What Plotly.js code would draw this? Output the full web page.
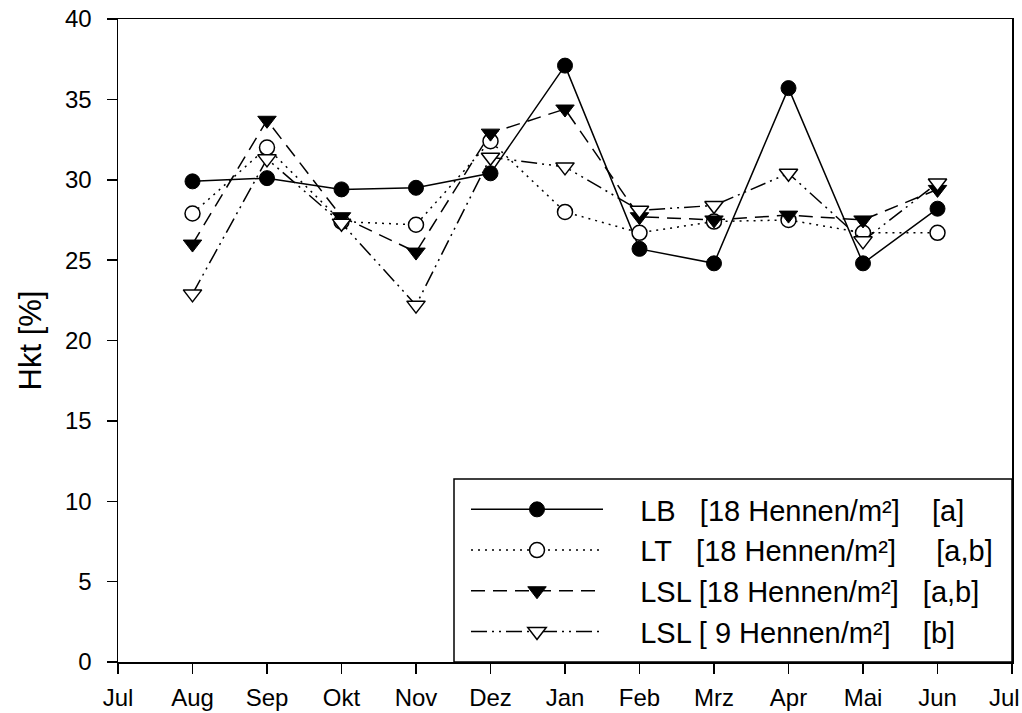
<!DOCTYPE html>
<html>
<head>
<meta charset="utf-8">
<script src="https://cdn.plot.ly/plotly-3.0.1.min.js"></script>
<style>html,body{margin:0;padding:0;background:#fff;}#chart{width:1022px;height:713px;}</style>
</head>
<body>
<div id="chart"></div>
<script>
const tickLabels = ['Jul','Aug','Sep','Okt','Nov','Dez','Jan','Feb','Mrz','Apr','Mai','Jun','Jul'];
const monthPos = [1,2,3,4,5,6,7,8,9,10,11];
const lb    = [29.9, 30.1, 29.4, 29.5, 30.4, 37.1, 25.7, 24.8, 35.7, 24.8, 28.2];
const lt    = [27.9, 32.0, 27.4, 27.2, 32.4, 28.0, 26.7, 27.4, 27.5, 26.7, 26.7];
const lsl18 = [26.0, 33.7, 27.7, 25.5, 32.9, 34.4, 27.7, 27.5, 27.8, 27.5, 29.4];
const lsl9  = [22.9, 31.3, 27.3, 22.2, 31.4, 30.8, 28.1, 28.4, 30.4, 26.2, 29.8];
const NB = '\u00a0';
const names = [
  NB.repeat(4) + 'LB' + NB.repeat(3) + '[18 Hennen/m²]' + NB.repeat(4) + '[a]',
  NB.repeat(4) + 'LT' + NB.repeat(3) + '[18 Hennen/m²]' + NB.repeat(5) + '[a,b]',
  NB.repeat(4) + 'LSL [18 Hennen/m²]' + NB.repeat(3) + '[a,b]',
  NB.repeat(4) + 'LSL [ 9 Hennen/m²]' + NB.repeat(4) + '[b]'
];

const traces = [
  {x: monthPos, y: lb, name: names[0], mode: 'lines+markers',
   line: {color: '#000', width: 1.5, dash: 'solid'},
   marker: {symbol: 'circle', size: 15, color: '#000', line: {color: '#000', width: 1}}},
  {x: monthPos, y: lt, name: names[1], mode: 'lines+markers',
   line: {color: '#000', width: 1.5, dash: '2px,5px'},
   marker: {symbol: 'circle', size: 15, color: '#fff', line: {color: '#000', width: 1.5}}},
  {x: monthPos, y: lsl18, name: names[2], mode: 'lines+markers',
   line: {color: '#000', width: 1.5, dash: '14px,8px'},
   marker: {symbol: 'triangle-down', size: 16, color: '#000', line: {color: '#000', width: 1}}},
  {x: monthPos, y: lsl9, name: names[3], mode: 'lines+markers',
   line: {color: '#000', width: 1.5, dash: '16px,5px,2px,5px,2px,5px'},
   marker: {symbol: 'triangle-down', size: 16, color: '#fff', line: {color: '#000', width: 1.5}}}
];

const plotL = 118, plotR = 1012, plotT = 19, plotB = 662;
const pw = plotR - plotL, ph = plotB - plotT;
const lastIdx = tickLabels.length - 1;

const layout = {
  width: 1022, height: 713,
  margin: {l: plotL, r: 1022 - plotR, t: plotT, b: 713 - plotB, pad: 0},
  paper_bgcolor: '#fff', plot_bgcolor: '#fff',
  font: {family: 'Liberation Sans, Arial, sans-serif', color: '#000'},
  showlegend: true,
  legend: {
    x: (466 - plotL) / pw, xanchor: 'left', y: (plotB - 570.5) / ph, yanchor: 'middle',
    borderwidth: 0, bgcolor: 'rgba(0,0,0,0)',
    font: {size: 29, color: '#000'}, itemwidth: 132, tracegroupgap: 0
  },
  shapes: [{
    type: 'rect', xref: 'paper', yref: 'paper',
    x0: (454 - plotL) / pw, x1: 1, y0: 0, y1: (plotB - 479) / ph,
    line: {color: '#000', width: 1.5}, fillcolor: 'rgba(0,0,0,0)'
  }],
  annotations: [{
    x: lastIdx, y: 0, xref: 'x', yref: 'y', text: tickLabels[lastIdx],
    showarrow: false, xanchor: 'center', yanchor: 'top', xshift: -8, yshift: -20,
    font: {size: 24, color: '#000'}
  }],
  xaxis: {
    range: [0, 12], tickvals: tickLabels.map((_, i) => i),
    ticktext: tickLabels.map((t, i) => i === lastIdx ? '' : t),
    showgrid: false, zeroline: false, showline: true, mirror: true,
    linecolor: '#000', linewidth: 1.5, ticks: 'outside', ticklen: 10, tickwidth: 1.5,
    tickcolor: '#000', tickfont: {size: 24}, ticklabelstandoff: 4
  },
  yaxis: {
    range: [0, 40], tickvals: [0,5,10,15,20,25,30,35,40],
    showgrid: false, zeroline: false, showline: true, mirror: true,
    linecolor: '#000', linewidth: 1.5, ticks: 'outside', ticklen: 10, tickwidth: 1.5,
    tickcolor: '#000', tickfont: {size: 24}, ticklabelstandoff: 10,
    title: {text: 'Hkt [%]', font: {size: 31}, standoff: 14}
  }
};

Plotly.newPlot('chart', traces, layout, {displayModeBar: false, staticPlot: true});
</script>
</body>
</html>
